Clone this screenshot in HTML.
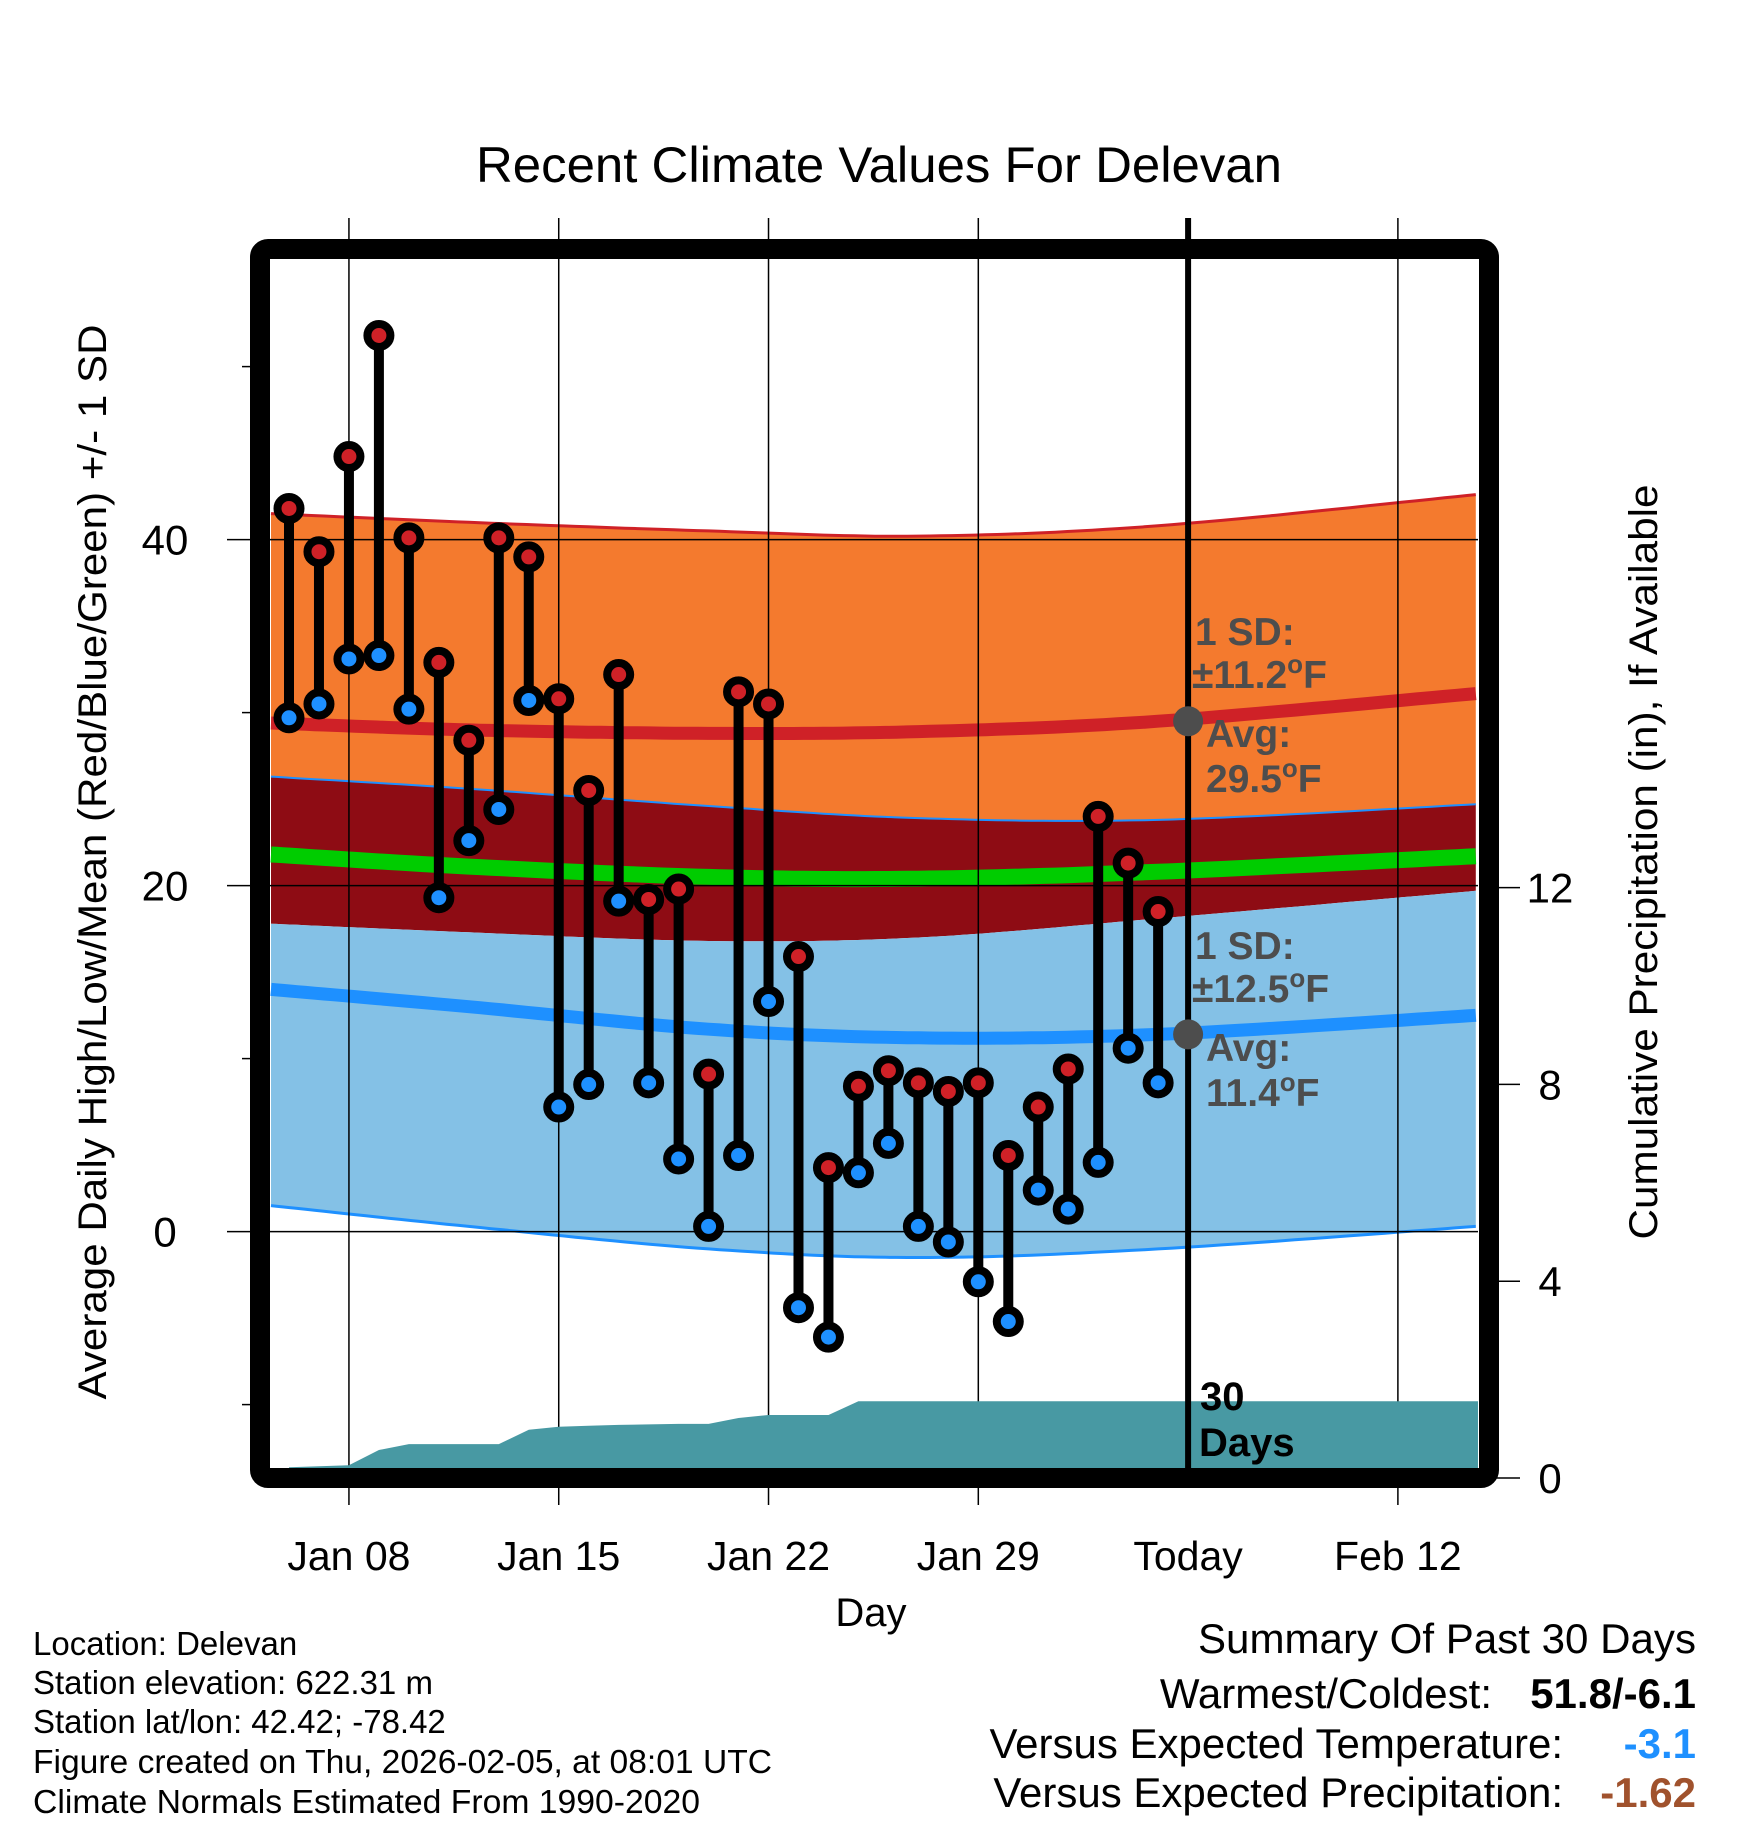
<!DOCTYPE html>
<html><head><meta charset="utf-8"><style>
html,body{margin:0;padding:0;background:#fff}
svg{display:block}
text{font-family:"Liberation Sans",sans-serif}
</style></head><body>
<svg id="chart" width="1748" height="1828" viewBox="0 0 1748 1828" xmlns="http://www.w3.org/2000/svg">
<g id="bands"></g>
<g id="grid"></g>
<g id="precip"></g>
<g id="today"></g>
<g id="marks"></g>
<g id="annot"></g>
<rect x="260" y="249" width="1229" height="1229" rx="8" fill="none" stroke="#000" stroke-width="20"/>
<g id="axes"></g>
<text x="879" y="182" font-size="50" text-anchor="middle" textLength="806" lengthAdjust="spacingAndGlyphs">Recent Climate Values For Delevan</text>
<text x="871" y="1626" font-size="40" text-anchor="middle">Day</text>
<text transform="translate(106,862) rotate(-90)" font-size="40" text-anchor="middle" textLength="1075" lengthAdjust="spacingAndGlyphs">Average Daily High/Low/Mean (Red/Blue/Green) +/- 1 SD</text>
<text transform="translate(1657,862) rotate(-90)" font-size="40" text-anchor="middle" textLength="755" lengthAdjust="spacingAndGlyphs">Cumulative Precipitation (in), If Available</text>
<g font-size="33">
<text x="33" y="1655">Location: Delevan</text>
<text x="33" y="1694">Station elevation: 622.31 m</text>
<text x="33" y="1733">Station lat/lon: 42.42; -78.42</text>
<text x="33" y="1773" textLength="739" lengthAdjust="spacingAndGlyphs">Figure created on Thu, 2026-02-05, at 08:01 UTC</text>
<text x="33" y="1813" textLength="667" lengthAdjust="spacingAndGlyphs">Climate Normals Estimated From 1990-2020</text>
</g>
<g font-size="42" text-anchor="end">
<text x="1696" y="1653" textLength="498" lengthAdjust="spacingAndGlyphs">Summary Of Past 30 Days</text>
<text x="1492" y="1708">Warmest/Coldest:</text>
<text x="1696" y="1708" font-weight="bold">51.8/-6.1</text>
<text x="1563" y="1758">Versus Expected Temperature:</text>
<text x="1696" y="1758" font-weight="bold" fill="#1e90ff">-3.1</text>
<text x="1563" y="1807">Versus Expected Precipitation:</text>
<text x="1696" y="1807" font-weight="bold" fill="#a0522d">-1.62</text>
</g>
</svg>
<script>
// data (day index 0 = Jan 06)
const highs = [41.8,39.3,44.8,51.8,40.1,32.9,28.4,40.1,39.0,30.8,25.5,32.2,19.2,19.8,9.1,31.2,30.5,15.9,3.7,8.4,9.3,8.6,8.1,8.6,4.4,7.2,9.4,24.0,21.3,18.5];
const lows = [29.7,30.5,33.1,33.3,30.2,19.3,22.6,24.4,30.7,7.2,8.5,19.1,8.6,4.2,0.3,4.4,13.3,-4.4,-6.1,3.4,5.1,0.3,-0.6,-2.9,-5.2,2.4,1.3,4.0,10.6,8.6];
const precip = [0.22,0.24,0.26,0.57,0.69,0.69,0.69,0.69,0.98,1.04,1.06,1.08,1.09,1.10,1.10,1.22,1.28,1.28,1.28,1.56,1.56,1.56,1.56,1.56,1.56,1.56,1.56,1.56,1.56,1.56];
// normals sampled at day offsets (relative to Jan 06)
const normDays = [-0.6,6,14,21,29,39.6];
const hiUpper = [41.5,41.0,40.5,40.2,40.8,42.6];
const hiAvg = [29.4,29.0,28.8,28.9,29.5,31.1];
const hiLower = [26.3,25.6,24.6,23.9,23.8,24.7];
const meanAvg = [21.8,21.1,20.5,20.4,20.8,21.7];
const loUpper = [17.8,17.3,16.8,17.0,18.1,19.7];
const loAvg = [14.0,13.0,11.7,11.2,11.4,12.5];
const loLower = [1.5,0.3,-1.0,-1.5,-1.0,0.3];
const xTickDays = [2,9,16,23,30,37];
const xTickLabels = ["Jan 08","Jan 15","Jan 22","Jan 29","Today","Feb 12"];
const yTicks = [0,20,40];
const yMinor = [-10,10,30,50];
const y2Ticks = [0,4,8,12];

const NS="http://www.w3.org/2000/svg";
const X = d => 289 + 29.97*d;
const Y = t => 1231.6 - 17.3*t;
const Y2 = p => 1478 - 49.2*p;
const XL = 270, XR = 1478;
function mk(tag, attrs, parent){const e=document.createElementNS(NS,tag);for(const k in attrs)e.setAttribute(k,attrs[k]);parent.appendChild(e);return e;}
function clampX(x){return Math.max(XL,Math.min(XR,x));}
// smooth curve sampled densely via Catmull-Rom
function pts(vals){
  const P=normDays.map((d,i)=>[clampX(X(d)),Y(vals[i])]);
  const out=[];
  for(let i=0;i<P.length-1;i++){
    const p0=P[Math.max(0,i-1)],p1=P[i],p2=P[i+1],p3=P[Math.min(P.length-1,i+2)];
    for(let s=0;s<20;s++){
      const t=s/20,t2=t*t,t3=t2*t;
      const f=k=>0.5*((2*p1[k])+(-p0[k]+p2[k])*t+(2*p0[k]-5*p1[k]+4*p2[k]-p3[k])*t2+(-p0[k]+3*p1[k]-3*p2[k]+p3[k])*t3);
      out.push([f(0),f(1)]);
    }
  }
  out.push(P[P.length-1]);
  return out;
}
function line(p){return p.map((q,i)=>(i?'L':'M')+q[0].toFixed(1)+','+q[1].toFixed(1)).join(' ');}
function band(up,lo){const a=pts(up),b=pts(lo).reverse();return line(a)+' '+b.map(q=>'L'+q[0].toFixed(1)+','+q[1].toFixed(1)).join(' ')+' Z';}
const bands=document.getElementById('bands');
let e;
e=mk('path',{d:band(hiUpper,hiLower),fill:'#f47a2e'},bands);


e=mk('path',{d:band(hiLower,loUpper),fill:'#8e0c14'},bands);


e=mk('path',{d:band(loUpper,loLower),fill:'#84c1e6'},bands);


e=mk('path',{d:line(pts(hiUpper)),fill:'none',stroke:'#cf2127','stroke-width':3},bands);


e=mk('path',{d:line(pts(hiLower)),fill:'none',stroke:'#1e90ff','stroke-width':2},bands);


e=mk('path',{d:line(pts(loLower)),fill:'none',stroke:'#1e90ff','stroke-width':3},bands);


e=mk('path',{d:line(pts(hiAvg)),fill:'none',stroke:'#cf2127','stroke-width':13},bands);


e=mk('path',{d:line(pts(meanAvg)),fill:'none',stroke:'#00cc00','stroke-width':16},bands);


e=mk('path',{d:line(pts(loAvg)),fill:'none',stroke:'#1e90ff','stroke-width':13},bands);



const grid=document.getElementById('grid');
const todayG=document.getElementById('today');
xTickDays.forEach((d,i)=>{
  const isToday = xTickLabels[i]==='Today';
  e=mk('line',{x1:X(d),x2:X(d),y1:218,y2:isToday?1468:1505,stroke:'#000','stroke-width':isToday?6:1.5},isToday?todayG:grid);
  
  
});
yTicks.forEach(t=>{
  e=mk('line',{x1:227,x2:XR,y1:Y(t),y2:Y(t),stroke:'#000','stroke-width':1.5},grid);
  
  
});

const pg=document.getElementById('precip');
let pd='M'+X(0)+','+1468;
precip.forEach((p,i)=>{pd+=' L'+X(i).toFixed(1)+','+Y2(p).toFixed(1);});
pd+=' L'+XR+','+Y2(precip[precip.length-1]).toFixed(1)+' L'+XR+',1468 Z';
e=mk('path',{d:pd,fill:'#4899a3'},pg);



const mg=document.getElementById('marks');
highs.forEach((h,i)=>{
  e=mk('line',{x1:X(i),x2:X(i),y1:Y(h),y2:Y(lows[i]),stroke:'#000','stroke-width':10},mg);
  
  
});
highs.forEach((h,i)=>{
  e=mk('circle',{cx:X(i),cy:Y(h),r:11.5,fill:'#cf2127',stroke:'#000','stroke-width':8},mg);
  
  
  e=mk('circle',{cx:X(i),cy:Y(lows[i]),r:11.5,fill:'#1e90ff',stroke:'#000','stroke-width':8},mg);
  
  
});

const an=document.getElementById('annot');
const todayX = X(30);
e=mk('circle',{cx:todayX,cy:Y(29.5),r:15,fill:'#4d4d4d'},an);


e=mk('circle',{cx:todayX,cy:Y(11.4),r:15,fill:'#4d4d4d'},an);


function label(txt,x,y,name,color,size){
  const t=mk('text',{x:x,y:y,'font-size':size||39,'font-weight':'bold',fill:color||'#4d4d4d'},an);
  
  
  t.innerHTML=txt;return t;
}
label('1 SD:',1195,645,'high-sd-label');
label('±11.2<tspan font-size="26" dy="-15">o</tspan><tspan dy="15">F</tspan>',1192,688,'high-sd-value');
label('Avg:',1206,747,'high-avg-label');
label('29.5<tspan font-size="26" dy="-15">o</tspan><tspan dy="15">F</tspan>',1206,792,'high-avg-value');
label('1 SD:',1195,959,'low-sd-label');
label('±12.5<tspan font-size="26" dy="-15">o</tspan><tspan dy="15">F</tspan>',1192,1002,'low-sd-value');
label('Avg:',1206,1061,'low-avg-label');
label('11.4<tspan font-size="26" dy="-15">o</tspan><tspan dy="15">F</tspan>',1206,1106,'low-avg-value');
label('30',1200,1410,'days-count-label','#000',40);
label('Days',1199,1456,'days-text-label','#000',40);

const ax=document.getElementById('axes');
xTickDays.forEach((d,i)=>{
  const t=mk('text',{x:X(d),y:1570,'font-size':41,'text-anchor':'middle'},ax);
  
  
  t.textContent=xTickLabels[i];
});
yTicks.forEach(v=>{
  const t=mk('text',{x:165,y:Y(v)+15,'font-size':42,'text-anchor':'middle'},ax);
  
  
  t.textContent=v;
});
yMinor.forEach(v=>{
  e=mk('line',{x1:242,x2:258,y1:Y(v),y2:Y(v),stroke:'#000','stroke-width':1.5},ax);
  
  
});
y2Ticks.forEach(v=>{
  e=mk('line',{x1:1490,x2:1520,y1:Y2(v),y2:Y2(v),stroke:'#000','stroke-width':1.5},ax);
  
  
  const t=mk('text',{x:1550,y:Y2(v)+15,'font-size':42,'text-anchor':'middle'},ax);
  
  
  t.textContent=v;
});
</script>
</body></html>
